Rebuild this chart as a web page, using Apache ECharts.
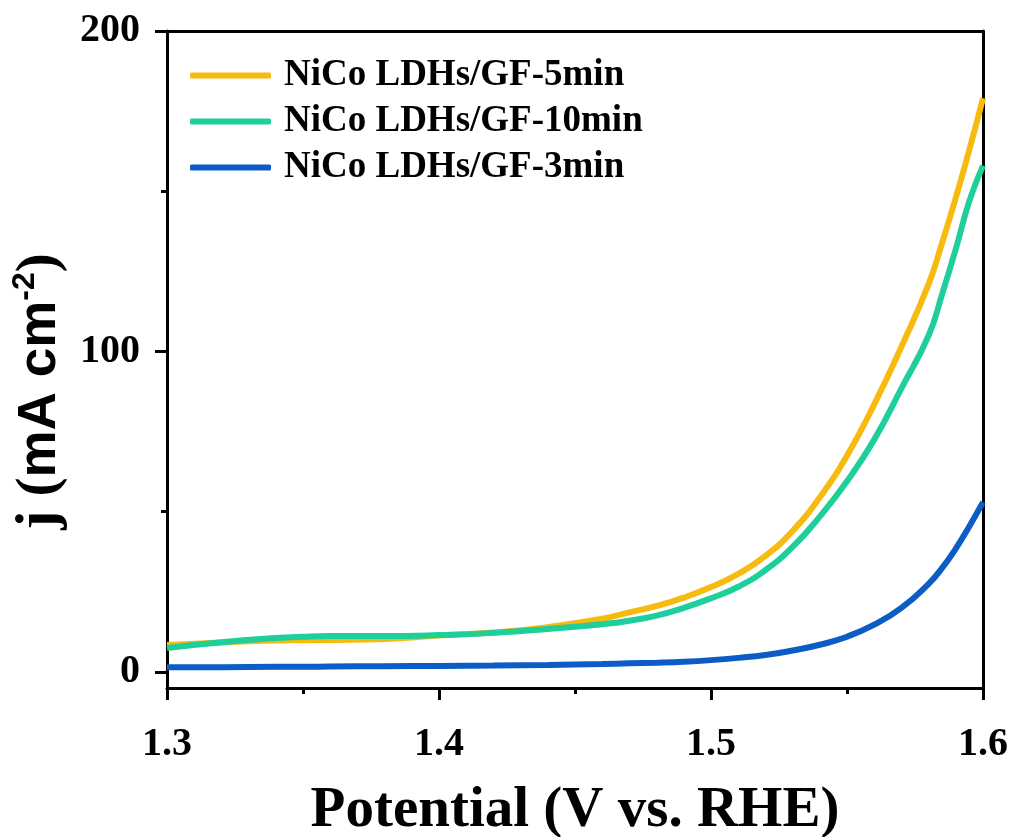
<!DOCTYPE html>
<html>
<head>
<meta charset="utf-8">
<script src="https://cdn.jsdelivr.net/npm/echarts@6/dist/echarts.min.js"></script>
<style>
  html, body { margin: 0; padding: 0; background: #fff; }
  #main { width: 1016px; height: 837px; }
</style>
</head>
<body>
<div id="main"></div>
<script>
// potential (V vs. RHE)
var potential = [1.30, 1.32, 1.34, 1.35, 1.36, 1.38, 1.40, 1.42, 1.44, 1.46, 1.47, 1.48, 1.49, 1.50,
  1.51, 1.52, 1.53, 1.54, 1.55, 1.56, 1.57, 1.58, 1.585, 1.59, 1.595, 1.60]
// current density j (mA cm-2)
var j5min = [8.4, 9.2, 9.8, 9.9, 10.0, 10.3, 11.4, 12.3, 14.0, 16.6, 18.6, 20.6, 23.2, 26.5,
  30.6, 36.2, 44.0, 54.5, 67.5, 83.5, 101.5, 121, 134, 148, 163, 179]
var j10min = [7.5, 9.3, 10.6, 11.0, 11.2, 11.2, 11.5, 12.2, 13.4, 14.9, 16.0, 17.6, 20.0, 23.0,
  26.6, 31.8, 39.0, 48.5, 59.5, 72.5, 88.5, 105, 118, 132, 147, 158]
var j3min = [1.5, 1.5, 1.6, 1.6, 1.7, 1.8, 1.9, 2.0, 2.2, 2.5, 2.7, 2.9, 3.2, 3.7,
  4.4, 5.3, 6.7, 8.5, 11.0, 14.8, 20.0, 27.5, 32.5, 38.5, 45.5, 53]
var seriesNames = ['NiCo LDHs/GF-5min', 'NiCo LDHs/GF-10min', 'NiCo LDHs/GF-3min']
var seriesColors = ['#F7BA0F', '#1ECE9B', '#0B5CC5']
var yLabels = [0, 100, 200]
var yMinor = [50, 150]

var serif = "'Liberation Serif', 'Times New Roman', serif"
var sans = "'Liberation Sans', Arial, sans-serif"
var black = { color: '#000', width: 3 }

function pairs (ys) {
  return potential.map(function (x, i) { return [x, ys[i]] })
}

var plotBox = { left: 167, right: 33, top: 31, bottom: 149, outerBoundsMode: 'none', containLabel: false }

var chart = echarts.init(document.getElementById('main'))
chart.setOption({
  animation: false,
  backgroundColor: '#fff',
  color: seriesColors,
  grid: [plotBox, plotBox],
  legend: {
    data: seriesNames,
    orient: 'vertical',
    left: 185,
    top: 52,
    icon: 'roundRect',
    itemWidth: 81,
    itemHeight: 6,
    itemGap: 9,
    textStyle: {
      fontFamily: serif,
      fontWeight: 'bold',
      fontSize: 37,
      color: '#000',
      padding: [0, 0, 0, 8]
    }
  },
  xAxis: [
    {
      type: 'value',
      gridIndex: 0,
      min: 1.3,
      max: 1.6,
      interval: 0.1,
      name: 'Potential (V vs. RHE)',
      nameLocation: 'middle',
      nameGap: 95,
      nameTextStyle: { fontFamily: serif, fontWeight: 'bold', fontSize: 57, color: '#000' },
      axisLine: { onZero: false, lineStyle: black },
      axisTick: { length: 12, lineStyle: black },
      minorTick: { show: true, splitNumber: 2, length: 6, lineStyle: black },
      axisLabel: {
        margin: 37,
        fontFamily: serif,
        fontWeight: 'bold',
        fontSize: 40,
        color: '#000',
        formatter: function (v) { return v.toFixed(1) }
      },
      splitLine: { show: false }
    },
    {
      type: 'value',
      gridIndex: 0,
      position: 'top',
      min: 1.3,
      max: 1.6,
      axisLine: { onZero: false, lineStyle: black },
      axisTick: { show: false },
      axisLabel: { show: false },
      splitLine: { show: false }
    },
    {
      // helper axis of the second grid, hidden
      type: 'value',
      gridIndex: 1,
      min: 1.3,
      max: 1.6,
      show: false
    }
  ],
  yAxis: [
    {
      type: 'value',
      gridIndex: 0,
      position: 'left',
      min: -5,
      max: 200,
      name: '{a|j (}{b|mA cm}{c|-2}{a|)}',
      nameLocation: 'middle',
      nameGap: 95,
      nameTextStyle: {
        color: '#000',
        padding: [0, 64, 0, 0],
        rich: {
          a: { fontFamily: serif, fontWeight: 'bold', fontSize: 57, color: '#000' },
          b: { fontFamily: sans, fontWeight: 'bold', fontSize: 53, color: '#000' },
          c: { fontFamily: sans, fontWeight: 'bold', fontSize: 32, color: '#000', padding: [0, 0, 30, 0] }
        }
      },
      axisLine: { onZero: false, lineStyle: black },
      axisTick: { customValues: yLabels, length: 12, lineStyle: black },
      axisLabel: {
        customValues: yLabels,
        margin: 27,
        fontFamily: serif,
        fontWeight: 'bold',
        fontSize: 40,
        color: '#000'
      },
      splitLine: { show: false }
    },
    {
      type: 'value',
      gridIndex: 0,
      position: 'right',
      min: -5,
      max: 200,
      axisLine: { show: true, onZero: false, lineStyle: black },
      axisTick: { show: false },
      axisLabel: { show: false },
      splitLine: { show: false }
    },
    {
      // minor ticks on the left axis
      type: 'value',
      gridIndex: 1,
      position: 'left',
      min: -5,
      max: 200,
      axisLine: { show: false },
      axisTick: { show: true, customValues: yMinor, length: 6, lineStyle: black },
      axisLabel: { show: false },
      splitLine: { show: false }
    }
  ],
  series: [
    { name: seriesNames[0], type: 'line', data: pairs(j5min), smooth: true, showSymbol: false, lineStyle: { width: 6 } },
    { name: seriesNames[1], type: 'line', data: pairs(j10min), smooth: true, showSymbol: false, lineStyle: { width: 6 } },
    { name: seriesNames[2], type: 'line', data: pairs(j3min), smooth: true, showSymbol: false, lineStyle: { width: 6 } }
  ]
})
</script>
</body>
</html>
